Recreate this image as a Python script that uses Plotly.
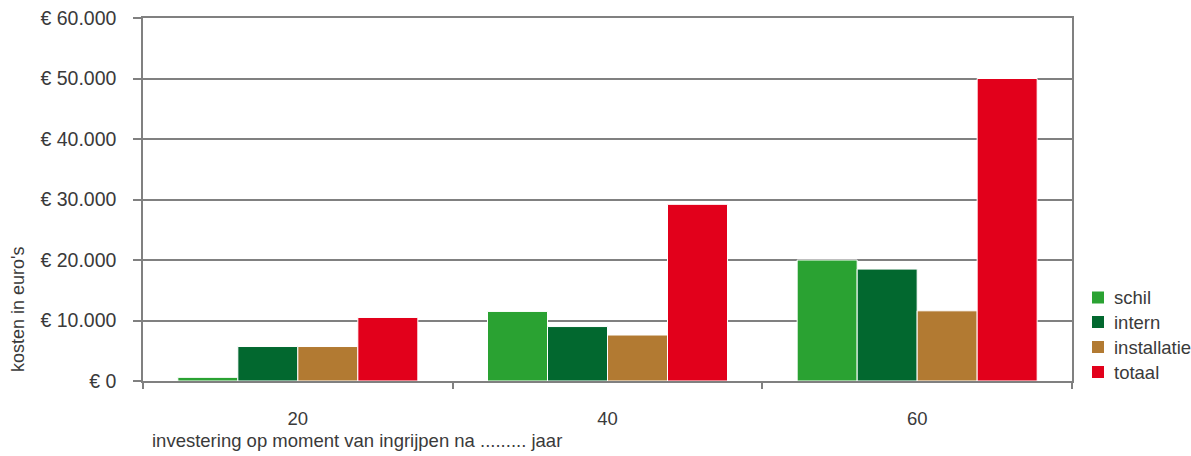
import plotly.graph_objects as go

# Kosten per onderdeel, per moment van ingrijpen (jaar)
jaren = ["20", "40", "60"]
schil = [600, 11500, 20000]
intern = [5700, 9000, 18500]
installatie = [5700, 7600, 11600]
totaal = [10500, 29200, 50000]

y_ticks = [0, 10000, 20000, 30000, 40000, 50000, 60000]
y_labels = ["€ 0", "€ 10.000", "€ 20.000", "€ 30.000", "€ 40.000", "€ 50.000", "€ 60.000"]

series = [
    ("schil", schil, "#2aa232"),
    ("intern", intern, "#02682f"),
    ("installatie", installatie, "#b27a32"),
    ("totaal", totaal, "#e2001b"),
]

FONT = "Liberation Sans, Arial, sans-serif"
TEXT = "#3a3a3a"
LINE = "#808080"

W, H = 1191, 456
ML, MR, MT, MB = 143, 119, 18, 75
PW, PH = W - ML - MR, H - MT - MB


def px_x(x):
    return (x - ML) / PW


def px_y(y):
    return (H - MB - y) / PH


fig = go.Figure()
for name, vals, color in series:
    fig.add_trace(go.Bar(
        x=jaren, y=vals, name=name,
        marker=dict(color=color, line=dict(color="white", width=1)),
    ))

fig.update_layout(
    width=W, height=H,
    margin=dict(l=ML, r=MR, t=MT, b=MB, autoexpand=False),
    paper_bgcolor="white", plot_bgcolor="white",
    barmode="group", bargap=0.225, bargroupgap=0,
    font=dict(family=FONT, size=18.5, color=TEXT),
    showlegend=False,
)

fig.update_xaxes(
    type="category", range=[-0.5, 2.5],
    showline=True, linecolor=LINE, linewidth=1.5, mirror=True,
    showgrid=False, tickson="boundaries",
    ticks="outside", ticklen=6, tickcolor=LINE, tickwidth=1.5,
    ticklabelstandoff=20,
    tickfont=dict(size=18.5, color=TEXT),
)

fig.update_yaxes(
    range=[0, 60000],
    tickvals=y_ticks, ticktext=y_labels,
    showline=True, linecolor=LINE, linewidth=1.5, mirror=True,
    showgrid=True, gridcolor=LINE, gridwidth=1.5,
    ticks="outside", ticklen=8, tickcolor=LINE, tickwidth=1.5,
    ticklabelstandoff=13,
    tickfont=dict(size=19.5, color=TEXT),
    zeroline=False,
)

# Legend: colour swatch plus label per series
legend_y = [297.5, 322, 347, 372]
for (name, _, color), cy in zip(series, legend_y):
    fig.add_shape(
        type="rect", xref="paper", yref="paper",
        x0=px_x(1092), x1=px_x(1104), y0=px_y(cy - 6), y1=px_y(cy + 6),
        fillcolor=color, line=dict(width=0),
    )
    fig.add_annotation(
        text=name, xref="paper", yref="paper",
        x=px_x(1112), y=px_y(cy), xanchor="left", yanchor="middle",
        showarrow=False, font=dict(size=18.5, color=TEXT),
    )

fig.add_annotation(
    text="kosten in euro's", textangle=-90,
    xref="paper", yref="paper", x=px_x(18), y=px_y(309),
    xanchor="center", yanchor="middle", showarrow=False,
    font=dict(size=18, color=TEXT),
)
fig.add_annotation(
    text="investering op moment van ingrijpen na ......... jaar",
    xref="paper", yref="paper", x=px_x(150), y=px_y(441),
    xanchor="left", yanchor="middle", showarrow=False,
    font=dict(size=18.5, color=TEXT),
)

fig.write_html("out.html")
